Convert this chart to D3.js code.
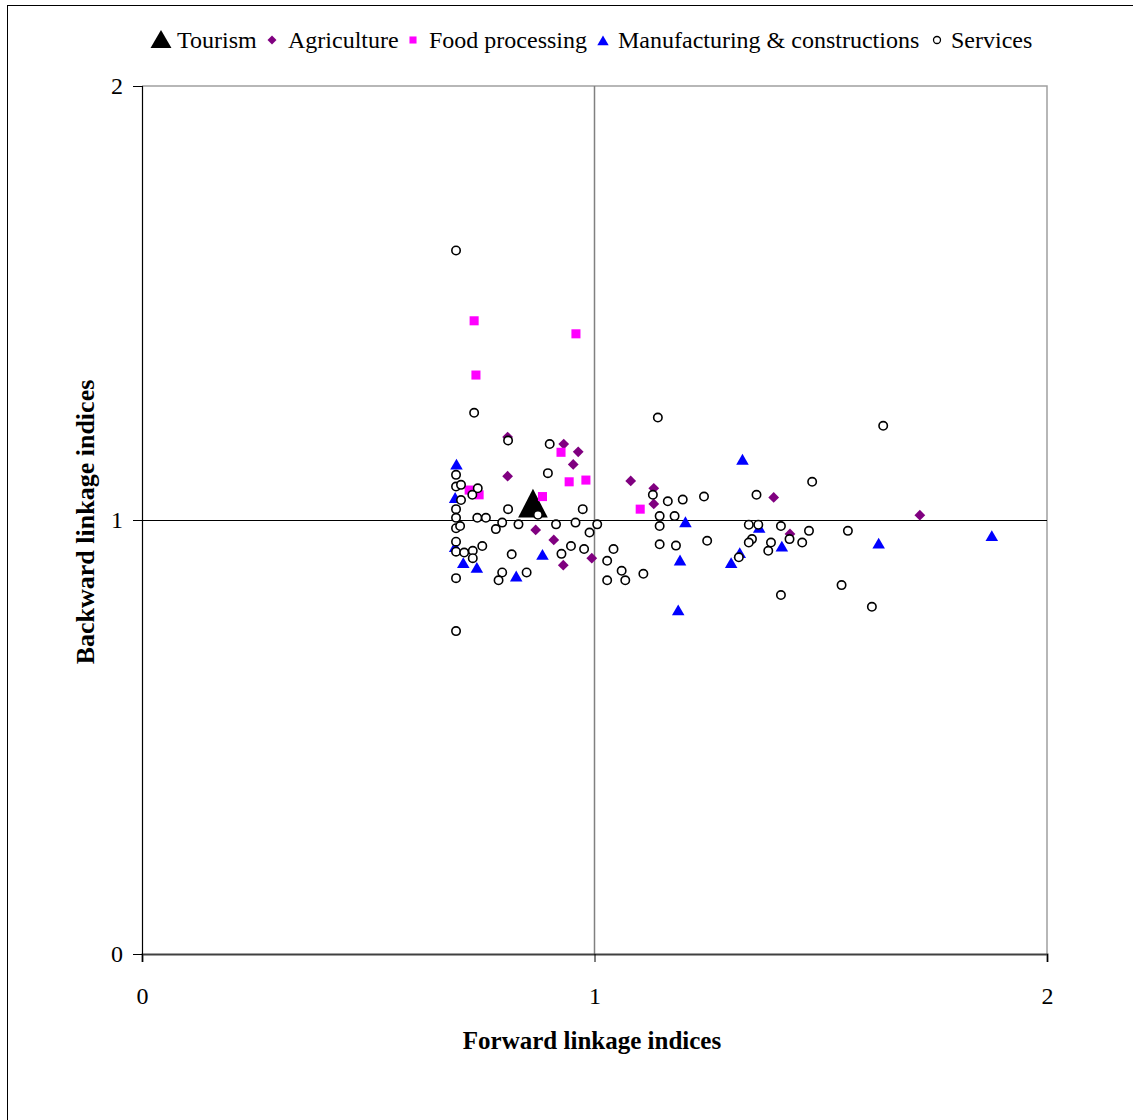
<!DOCTYPE html>
<html><head><meta charset="utf-8">
<script src="https://cdn.jsdelivr.net/npm/d3@7"></script>
<style>body{margin:0;background:#fff}svg{display:block}</style>
</head><body>
<script>
const seriesNames = ["Tourism","Agriculture","Food processing","Manufacturing & constructions","Services"];
const tourism = [[0.864,1.030]];
const agriculture = [[0.808,1.191],[0.932,1.175],[0.964,1.157],[0.953,1.128],[0.808,1.101],[1.080,1.090],[1.131,1.073],[1.131,1.037],[1.396,1.052],[0.870,0.977],[0.910,0.954],[0.994,0.912],[0.931,0.896],[1.432,0.968],[1.719,1.011]];
const foodProcessing = [[0.734,1.459],[0.959,1.429],[0.738,1.334],[0.926,1.156],[0.944,1.088],[0.981,1.092],[0.723,1.069],[0.745,1.058],[0.885,1.054],[1.101,1.025]];
const manufacturing = [[0.695,1.127],[0.692,1.050],[0.692,0.937],[0.710,0.900],[0.740,0.889],[0.827,0.869],[0.885,0.919],[1.327,1.138],[1.201,0.994],[1.364,0.981],[1.414,0.938],[1.321,0.923],[1.302,0.900],[1.189,0.906],[1.185,0.791],[1.628,0.945],[1.878,0.962]];
const services = [[0.694,1.621],[0.734,1.247],[1.140,1.236],[1.638,1.217],[0.809,1.183],[0.901,1.175],[0.897,1.108],[0.694,1.104],[0.694,1.077],[0.705,1.081],[0.742,1.073],[0.730,1.058],[0.705,1.046],[0.694,1.025],[0.694,1.005],[0.694,0.981],[0.703,0.986],[0.741,1.005],[0.760,1.005],[0.809,1.025],[0.875,1.012],[0.974,1.025],[0.782,0.979],[0.796,0.994],[0.832,0.990],[0.915,0.990],[0.958,0.994],[1.006,0.990],[0.989,0.971],[0.694,0.950],[0.694,0.927],[0.712,0.925],[0.731,0.929],[0.752,0.940],[0.731,0.912],[0.817,0.921],[0.948,0.940],[0.977,0.933],[0.927,0.922],[1.042,0.933],[1.028,0.906],[1.060,0.883],[0.694,0.866],[0.796,0.879],[0.788,0.861],[0.850,0.879],[1.028,0.861],[1.068,0.861],[0.694,0.744],[1.108,0.876],[1.481,1.088],[1.129,1.058],[1.162,1.043],[1.195,1.047],[1.242,1.054],[1.358,1.058],[1.144,1.009],[1.177,1.009],[1.144,0.986],[1.341,0.989],[1.362,0.989],[1.412,0.986],[1.431,0.956],[1.474,0.975],[1.459,0.948],[1.560,0.975],[1.144,0.944],[1.180,0.941],[1.249,0.952],[1.348,0.956],[1.341,0.948],[1.390,0.948],[1.384,0.929],[1.319,0.914],[1.412,0.827],[1.546,0.850],[1.613,0.800]];
const xTicks = [0,1,2];
const yTicks = [0,1,2];

const W = 1133, H = 1120;
const svg = d3.select("body").append("svg").attr("width", W).attr("height", H);
const font = "'Liberation Serif','Times New Roman',serif";

// outer border
svg.append("rect").attr("x",7.5).attr("y",5.5).attr("width",W+20).attr("height",H+20)
  .attr("fill","none").attr("stroke","#000").attr("stroke-width",1);

const x = d3.scaleLinear().domain([0,2]).range([142,1047]);
const y = d3.scaleLinear().domain([0,2]).range([954,86]);

// plot area border (top / right)
svg.append("path").attr("d",`M${x(0)},${y(2)}H${x(2)}V${y(0)}`)
  .attr("fill","none").attr("stroke","#a0a0a0").attr("stroke-width",1.5);

// reference lines at 1
svg.append("line").attr("x1",x(1)).attr("x2",x(1)).attr("y1",y(0)).attr("y2",y(2))
  .attr("stroke","#808080").attr("stroke-width",1.5);
svg.append("line").attr("x1",x(0)).attr("x2",x(2)).attr("y1",y(1)+0.5).attr("y2",y(1)+0.5)
  .attr("stroke","#000").attr("stroke-width",1);

// axes
const xAxis = svg.append("g").attr("transform",`translate(0,${y(0)})`)
  .call(d3.axisBottom(x).tickValues(xTicks).tickSize(8).tickPadding(25).tickFormat(d3.format("d")));
const yAxis = svg.append("g").attr("transform",`translate(${x(0)},0)`)
  .call(d3.axisLeft(y).tickValues(yTicks).tickSize(9).tickPadding(10).tickFormat(d3.format("d")));
xAxis.select(".domain").attr("stroke","#404040").attr("stroke-width",2);
yAxis.select(".domain").attr("stroke","#000").attr("stroke-width",1.2);
[xAxis,yAxis].forEach(a=>{
  a.selectAll(".tick line").attr("stroke","#000");
  a.selectAll("text").attr("font-family",font).attr("font-size",24).attr("fill","#000");
});

// markers
const sym = (type,size)=>d3.symbol().type(type).size(size)();
function draw(data, type, size, fill, dy, rot, sy){
  svg.append("g").selectAll("path").data(data).join("path")
    .attr("transform",d=>`translate(${x(d[0])},${y(d[1])+(dy||0)})${rot?` rotate(${rot})`:""}${sy?` scale(1,${sy})`:""}`)
    .attr("d",sym(type,size))
    .attr("fill",fill);
}
draw(tourism, d3.symbolTriangle, 380, "#000", 1, 0, 1.12);
draw(agriculture, d3.symbolSquare, 58, "#800080", 0, 45);
draw(foodProcessing, d3.symbolSquare, 82, "#ff00ff", 0);
draw(manufacturing, d3.symbolTriangle, 68, "#0000ff", 1);
svg.append("g").selectAll("circle").data(services).join("circle")
  .attr("cx",d=>x(d[0])).attr("cy",d=>y(d[1])).attr("r",4.2)
  .attr("fill","#fff").attr("stroke","#000").attr("stroke-width",1.6);

// legend
const legend = [
  {name:seriesNames[0], mx:161, tx:177, type:"tri", size:190, fill:"#000"},
  {name:seriesNames[1], mx:272, tx:288, type:"dia", size:40, fill:"#800080"},
  {name:seriesNames[2], mx:413, tx:429, type:"sq", size:50, fill:"#ff00ff"},
  {name:seriesNames[3], mx:603, tx:618, type:"tri", size:56, fill:"#0000ff"},
  {name:seriesNames[4], mx:937, tx:951, type:"circ", size:0, fill:"#fff"}
];
const lg = svg.append("g");
legend.forEach(l=>{
  if(l.type==="circ"){
    lg.append("circle").attr("cx",l.mx).attr("cy",40).attr("r",3.5).attr("fill","#fff").attr("stroke","#000").attr("stroke-width",1.3);
  } else {
    const t = l.type==="tri"?d3.symbolTriangle:d3.symbolSquare;
    lg.append("path").attr("transform",`translate(${l.mx},${l.type==="tri"?42:40})${l.type==="dia"?" rotate(45)":""}`).attr("d",sym(t,l.size)).attr("fill",l.fill);
  }
  lg.append("text").attr("x",l.tx).attr("y",48).attr("font-family",font).attr("font-size",24)
    .attr("fill","#000").text(l.name);
});

// axis titles
svg.append("text").attr("x",592).attr("y",1049).attr("text-anchor","middle")
  .attr("font-family",font).attr("font-weight","bold").attr("font-size",25).text("Forward linkage indices");
svg.append("text").attr("transform","translate(94,522) rotate(-90)").attr("text-anchor","middle")
  .attr("font-family",font).attr("font-weight","bold").attr("font-size",26).text("Backward linkage indices");
</script>
</body></html>
